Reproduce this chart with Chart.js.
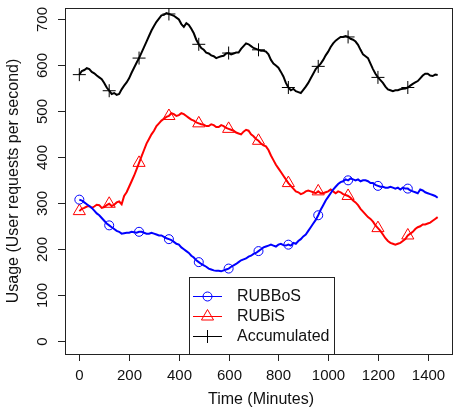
<!DOCTYPE html>
<html>
<head>
<meta charset="utf-8">
<script src="https://cdn.jsdelivr.net/npm/chart.js@4/dist/chart.umd.min.js"></script>
<style>
  html, body { margin: 0; padding: 0; background: #fff; overflow: hidden; }
  #wrap { width: 455px; height: 412px; overflow: hidden; }
  canvas { display: block; }
</style>
</head>
<body>
<div id="wrap"><canvas id="chart" width="460" height="412"></canvas></div>
<script>
// minutes of the day, sampled every 10 min
const minutes = [0, 10, 20, 30, 40, 50, 60, 70, 80, 90, 100, 110, 120, 130, 140, 150, 160, 170, 180, 190,
  200, 210, 220, 230, 240, 250, 260, 270, 280, 290, 300, 310, 320, 330, 340, 350, 360, 370, 380, 390,
  400, 410, 420, 430, 440, 450, 460, 470, 480, 490, 500, 510, 520, 530, 540, 550, 560, 570, 580, 590,
  600, 610, 620, 630, 640, 650, 660, 670, 680, 690, 700, 710, 720, 730, 740, 750, 760, 770, 780, 790,
  800, 810, 820, 830, 840, 850, 860, 870, 880, 890, 900, 910, 920, 930, 940, 950, 960, 970, 980, 990,
  1000, 1010, 1020, 1030, 1040, 1050, 1060, 1070, 1080, 1090, 1100, 1110, 1120, 1130, 1140, 1150, 1160, 1170, 1180, 1190,
  1200, 1210, 1220, 1230, 1240, 1250, 1260, 1270, 1280, 1290, 1300, 1310, 1320, 1330, 1340, 1350, 1360, 1370, 1380, 1390,
  1400, 1410, 1420, 1430, 1440]

const rubbos = [308, 306, 302, 298, 294, 290, 284, 278, 274, 268,
  262, 256, 252, 248, 244, 240, 238, 234, 235, 236,
  236, 238, 237, 236, 238, 238, 236, 234, 234, 236,
  234, 232, 230, 230, 227, 224, 222, 220, 216, 212,
  210, 204, 200, 196, 192, 186, 182, 176, 172, 168,
  165, 162, 158, 156, 154, 153, 153, 152, 154, 156,
  158, 162, 165, 168, 172, 176, 178, 180, 184, 186,
  190, 192, 196, 200, 204, 206, 208, 210, 208, 206,
  210, 212, 209, 208, 210, 208, 214, 212, 218, 222,
  228, 232, 240, 248, 256, 264, 274, 286, 296, 306,
  314, 322, 330, 336, 342, 346, 348, 352, 350, 354,
  352, 350, 352, 348, 350, 350, 348, 344, 344, 340,
  338, 336, 336, 334, 334, 336, 334, 332, 334, 330,
  334, 332, 332, 328, 326, 324, 322, 330, 328, 324,
  322, 320, 318, 316, 312]

const rubis = [283, 288, 290, 293, 294, 290, 293, 297, 296, 290,
  292, 296, 299, 294, 297, 302, 304, 298, 316, 324,
  336, 348, 360, 374, 388, 402, 416, 430, 440, 450,
  458, 468, 474, 480, 484, 488, 490, 496, 494, 490,
  492, 496, 494, 490, 486, 482, 480, 476, 474, 472,
  471, 468, 468, 472, 470, 466, 466, 470, 468, 464,
  462, 460, 458, 454, 452, 450, 456, 460, 458, 450,
  446, 440, 436, 430, 426, 424, 416, 404, 394, 384,
  376, 368, 360, 352, 344, 338, 332, 326, 324, 320,
  322, 326, 328, 326, 324, 322, 326, 322, 322, 324,
  326, 330, 326, 322, 326, 324, 320, 318, 316, 312,
  306, 302, 296, 288, 282, 276, 270, 266, 260, 252,
  246, 240, 232, 224, 218, 214, 212, 210, 212, 214,
  218, 222, 230, 234, 238, 244, 248, 250, 254, 254,
  256, 258, 262, 266, 270]

const accumulated = [580, 588, 590, 594, 592, 586, 583, 578, 574, 570,
  562, 552, 545, 538, 540, 536, 538, 548, 556, 563,
  572, 584, 595, 606, 616, 628, 640, 652, 664, 676,
  686, 695, 702, 709, 710, 714, 712, 710, 708, 704,
  700, 690, 684, 692, 688, 680, 670, 656, 646, 638,
  634, 628, 626, 622, 620, 616, 618, 620, 621, 626,
  627, 624, 626, 628, 628, 636, 642, 648, 646, 642,
  638, 636, 634, 632, 632, 630, 624, 612, 604, 600,
  595, 586, 576, 562, 552, 546, 549, 544, 542, 540,
  547, 554, 562, 572, 582, 592, 598, 604, 612, 622,
  630, 640, 648, 654, 658, 662, 662, 664, 662, 658,
  656, 652, 645, 634, 624, 620, 616, 604, 592, 582,
  574, 568, 562, 554, 548, 546, 544, 546, 546, 548,
  549, 550, 552, 556, 560, 563, 566, 572, 578, 582,
  582, 578, 577, 580, 579]

const xTicks = [0, 200, 400, 600, 800, 1000, 1200, 1400]
const yTicks = [0, 100, 200, 300, 400, 500, 600, 700]

const FONT = '"Liberation Sans", Arial, sans-serif'

// a marker every 120 minutes, like the original plot
const markEvery = (r) => (ctx) => (ctx.dataIndex % 12 === 0 && ctx.dataIndex <= 132) ? r : 0

function series(label, values, color, style, r) {
  return {
    label: label,
    data: minutes.map((m, i) => ({ x: m, y: values[i] })),
    borderColor: color,
    borderWidth: 2,
    backgroundColor: 'rgba(0,0,0,0)',
    pointStyle: style,
    markerSize: r,
    pointRadius: markEvery(r),
    pointBorderWidth: 1,
    pointBorderColor: color,
    pointBackgroundColor: 'rgba(0,0,0,0)',
    tension: 0
  }
}

// R-style box, ticks, labels and legend
const rFrame = {
  id: 'rFrame',
  beforeDatasetsDraw(chart) {
    const { ctx, chartArea: a, scales } = chart
    ctx.save()
    ctx.strokeStyle = '#222'
    ctx.lineWidth = 1
    ctx.strokeRect(a.left + 0.5, a.top + 0.5, a.right - a.left, a.bottom - a.top)

    ctx.fillStyle = '#111'
    ctx.font = '15px ' + FONT
    ctx.textAlign = 'center'
    ctx.textBaseline = 'middle'
    xTicks.forEach(v => {
      const x = Math.round(scales.x.getPixelForValue(v)) + 0.5
      ctx.beginPath()
      ctx.moveTo(x, a.bottom)
      ctx.lineTo(x, a.bottom + 7)
      ctx.stroke()
      ctx.fillText(String(v), x, 376)
    })
    yTicks.forEach(v => {
      const y = Math.round(scales.y.getPixelForValue(v)) + 0.5
      ctx.beginPath()
      ctx.moveTo(a.left, y)
      ctx.lineTo(a.left - 7, y)
      ctx.stroke()
      ctx.save()
      ctx.translate(43, y)
      ctx.rotate(-Math.PI / 2)
      ctx.fillText(String(v), 0, 0)
      ctx.restore()
    })

    ctx.font = '16px ' + FONT
    ctx.fillText('Time (Minutes)', 261, 400)
    ctx.save()
    ctx.translate(14, (a.top + a.bottom) / 2)
    ctx.rotate(-Math.PI / 2)
    ctx.fillText('Usage (User requests per second)', 0, 0)
    ctx.restore()
    ctx.restore()
  },
  afterDatasetsDraw(chart) {
    const { ctx, chartArea: a } = chart
    const bx = 189, by = 277
    ctx.save()
    ctx.fillStyle = '#fff'
    ctx.fillRect(bx, by, 145, a.bottom - by)
    ctx.strokeStyle = '#222'
    ctx.lineWidth = 1
    ctx.strokeRect(bx + 0.5, by + 0.5, 145, a.bottom - by)

    const rows = [296, 316, 336]
    chart.data.datasets.forEach((ds, i) => {
      const y = rows[i] + 0.5
      ctx.strokeStyle = ds.borderColor
      ctx.lineWidth = 1
      ctx.beginPath()
      ctx.moveTo(193, y)
      ctx.lineTo(222, y)
      ctx.stroke()
      ctx.fillStyle = 'rgba(0,0,0,0)'
      Chart.helpers.drawPoint(ctx, { pointStyle: ds.pointStyle, radius: ds.markerSize, borderWidth: 1 }, 207.5, y)
      ctx.fillStyle = '#111'
      ctx.font = '16px ' + FONT
      ctx.textAlign = 'left'
      ctx.textBaseline = 'middle'
      ctx.fillText(ds.label, 237, y + 0.5)
    })
    ctx.restore()
  }
}

new Chart(document.querySelector('#chart').getContext('2d'), {
  type: 'line',
  data: {
    datasets: [
      series('RUBBoS', rubbos, '#0000ff', 'circle', 4.5),
      series('RUBiS', rubis, '#ff0000', 'triangle', 7),
      series('Accumulated', accumulated, '#000000', 'cross', 6.5)
    ]
  },
  options: {
    responsive: false,
    animation: false,
    devicePixelRatio: 1,
    layout: { padding: { left: 65, top: 2, right: 0, bottom: 58 } },
    plugins: { legend: { display: false }, tooltip: { enabled: false } },
    scales: {
      x: { type: 'linear', display: false, min: -57.6, max: 1497.6 },
      y: { type: 'linear', display: false, min: -27.9, max: 725 }
    }
  },
  plugins: [rFrame]
})
</script>
</body>
</html>
